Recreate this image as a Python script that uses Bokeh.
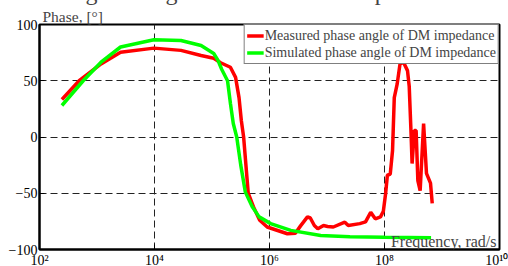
from bokeh.plotting import figure
from bokeh.models import FixedTicker, Legend, LegendItem, Label, Title
from bokeh.embed import file_html
from bokeh.resources import INLINE

# ---- data (log10 of angular frequency, phase in degrees) ----
meas_logf = [2.39, 2.69, 3.07, 3.41, 3.99, 4.46, 4.81, 5.03, 5.15, 5.32, 5.41, 5.47, 5.51,
             5.55, 5.59, 5.63, 5.72, 5.83, 5.96, 6.31, 6.45, 6.54, 6.59, 6.66, 6.71, 6.78,
             6.84, 6.94, 7.01, 7.11, 7.31, 7.37, 7.57, 7.67, 7.76, 7.84, 7.93, 7.98, 8.02,
             8.05, 8.10, 8.14, 8.17, 8.22, 8.27, 8.33, 8.40, 8.43, 8.46, 8.48, 8.52, 8.55,
             8.58, 8.62, 8.68, 8.73, 8.80, 8.83]
meas_phase = [33.3, 50, 65, 75.4, 79, 77, 72.4, 70, 66, 62, 53, 35, 14.7,
              0, -25, -50, -62, -74, -80, -86, -85.5, -79, -75.7, -71, -72, -78.7,
              -81.6, -78.7, -79.5, -80, -75.7, -78.7, -77, -75.5, -67, -72.7, -71, -66, -50,
              -34, -33, -12, 35, 47, 65, 66.5, 59, 45, 5.8, -23.6, 5.8, 5.8,
              -38.7, -47.6, 12, -32.4, -41, -59]

sim_logf = [2.39, 2.76, 3.07, 3.41, 3.99, 4.46, 4.81, 5.03, 5.10, 5.17, 5.27, 5.32, 5.37,
            5.43, 5.50, 5.58, 5.70, 5.82, 6.02, 6.37, 6.89, 7.40, 8.00, 8.81]
sim_phase = [28, 50, 66.5, 80, 86.4, 85.8, 81.3, 74.2, 68.6, 60, 50, 30, 12,
             0, -25, -49, -62, -71, -77, -83, -87.6, -88.6, -89.2, -89.5]

series_names = ["Measured phase angle of DM impedance",
                "Simulated phase angle of DM impedance"]
series_colors = ["#ff0000", "#00ff00"]

x_ticks = [1e2, 1e4, 1e6, 1e8, 1e10]
x_tick_labels = ["10\u00b2", "10\u2074", "10\u2076", "10\u2078", "10\u00b9\u2070"]
y_ticks = [-100, -50, 0, 50, 100]

title_text = "Fig. 6. Magnitude of the DM impedance"
y_label = "Phase, [\u00b0]"
x_label = "Frequency, rad/s"

FONT = "Liberation Serif"
SHIFT = 40   # canvas kept above the window (the title is cut there, as in the source)
BELOW = 6    # canvas kept below the window (tick labels are cut there)

p = figure(width=508, height=266 + SHIFT + BELOW, output_backend="svg",
           toolbar_location=None,
           x_axis_type="log", x_range=(1e2, 1e10), y_range=(-100, 100),
           min_border_left=39, min_border_right=9, min_border_top=24 + SHIFT,
           min_border_bottom=17 + BELOW)
p.styles = {"position": "absolute", "left": "0px", "top": f"-{SHIFT}px"}
p.background_fill_color = "white"
p.border_fill_color = "white"
p.outline_line_color = "black"
p.outline_line_width = 2

# titles above the frame
p.title.text = title_text
p.title.text_font = FONT
p.title.text_font_size = "24px"
p.title.text_font_style = "normal"
p.title.align = "left"
p.title.offset = 26
p.title.standoff = 2
p.add_layout(Title(text=y_label, text_font=FONT, text_font_size="15.5px",
                   text_font_style="normal", align="left", offset=3, standoff=0), "above")

meas_f = [10 ** v for v in meas_logf]
sim_f = [10 ** v for v in sim_logf]

r1 = p.line(meas_f, meas_phase, line_color=series_colors[0], line_width=3.5)
r2 = p.line(sim_f, sim_phase, line_color=series_colors[1], line_width=3.5)

# axes
p.xaxis.ticker = FixedTicker(ticks=x_ticks)
p.xaxis.major_label_overrides = {t: l for t, l in zip(x_ticks, x_tick_labels)}
p.yaxis.ticker = FixedTicker(ticks=y_ticks)
for ax in (p.xaxis[0], p.yaxis[0]):
    ax.axis_line_color = "black"
    ax.axis_line_width = 2
    ax.major_tick_in = 5
    ax.major_tick_out = 0
    ax.major_tick_line_color = "black"
    ax.minor_tick_line_color = None
    ax.major_label_text_font = FONT
    ax.major_label_text_font_size = "14px"
    ax.major_label_text_color = "black"
p.xaxis.major_label_standoff = 3
p.yaxis.major_label_standoff = 2

# grid
for g in (p.xgrid[0], p.ygrid[0]):
    g.grid_line_color = "#222222"
    g.grid_line_dash = "7 4"
    g.grid_line_width = 1
p.xgrid.ticker = FixedTicker(ticks=x_ticks[1:-1])
p.ygrid.ticker = FixedTicker(ticks=y_ticks[1:-1])

# legend
legend = Legend(items=[LegendItem(label=series_names[0], renderers=[r1]),
                       LegendItem(label=series_names[1], renderers=[r2])],
                location="top_right", margin=0, padding=2, spacing=0,
                glyph_width=17, glyph_height=17, label_standoff=1, label_height=17,
                label_text_font=FONT, label_text_font_size="14px",
                border_line_color="black", border_line_width=1.5,
                background_fill_color="white", background_fill_alpha=1)
p.add_layout(legend)

# axis name inside the frame
p.add_layout(Label(x=1e10, y=-100, x_offset=-3, y_offset=0, text=x_label,
                   text_font=FONT, text_font_size="16px", text_baseline="bottom",
                   text_align="right"))

open("out.html", "w").write(file_html(p, INLINE))
